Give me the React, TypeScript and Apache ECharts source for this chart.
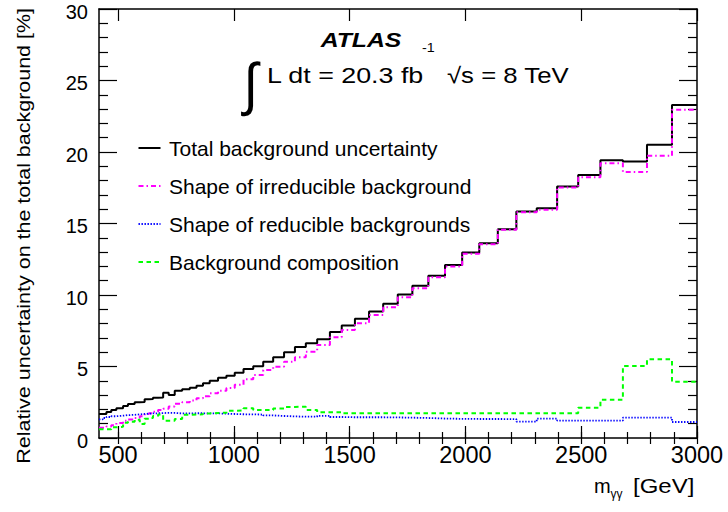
import React, { useEffect, useRef } from "react";
import * as echarts from "echarts";

// Bin edges of the m_gammagamma histogram [GeV]
const binEdges = [
  418, 434, 450, 471, 493, 522, 543, 572, 594, 615,
  633, 651, 673, 695, 719, 745, 777, 810, 839, 867,
  896, 932, 968, 1004, 1042, 1084, 1127, 1170, 1217, 1264,
  1311, 1360, 1415, 1466, 1523, 1584, 1645, 1708, 1771, 1840,
  1912, 1986, 2060, 2140, 2220, 2308, 2396, 2487, 2583, 2680,
  2784, 2892, 3000,
];

// Relative uncertainties [%] per bin
const totalUncertainty = [
  1.68, 1.68, 1.82, 1.96, 2.08, 2.24, 2.38, 2.5, 2.52, 2.71,
  2.73, 2.82, 2.84, 3.17, 3.01, 3.31, 3.41, 3.52, 3.66, 3.83,
  4.01, 4.22, 4.36, 4.57, 4.82, 5.02, 5.34, 5.65, 6.0, 6.36,
  6.63, 6.9, 7.41, 7.87, 8.34, 8.85, 9.38, 10.04, 10.64, 11.34,
  12.1, 12.97, 13.62, 14.6, 15.84, 16.07, 17.59, 18.4, 19.43, 19.34,
  20.5, 23.28,
];
const irreducibleShape = [
  0.72, 0.72, 0.8, 0.9, 1.05, 1.21, 1.3, 1.4, 1.52, 1.68,
  1.73, 1.84, 1.95, 2.05, 2.2, 2.4, 2.5, 2.62, 2.78, 2.92,
  3.13, 3.3, 3.5, 3.72, 4.11, 4.41, 4.76, 4.99, 5.34, 5.65,
  6.04, 6.51, 7.05, 7.56, 8.03, 8.61, 9.15, 9.84, 10.47, 11.24,
  11.99, 12.88, 13.55, 14.56, 15.79, 15.96, 17.52, 18.24, 19.22, 18.61,
  19.73, 22.95,
];
const reducibleShape = [
  1.3, 1.4, 1.47, 1.52, 1.56, 1.6, 1.62, 1.65, 1.68, 1.7,
  1.72, 1.73, 1.74, 1.76, 1.75, 1.72, 1.72, 1.73, 1.73, 1.72,
  1.72, 1.7, 1.68, 1.66, 1.65, 1.64, 1.58, 1.54, 1.51, 1.49,
  1.49, 1.55, 1.47, 1.45, 1.45, 1.45, 1.44, 1.42, 1.4, 1.36,
  1.34, 1.33, 1.33, 1.32, 1.14, 1.35, 1.22, 1.21, 1.21, 1.42,
  1.42, 1.12,
];
const backgroundComposition = [
  0.61, 0.61, 0.61, 0.75, 0.78, 1.07, 1.14, 1.28, 0.98, 1.35,
  1.4, 1.54, 1.65, 1.21, 1.21, 1.33, 1.62, 1.64, 1.66, 1.72,
  1.75, 1.77, 1.9, 1.92, 2.08, 1.96, 1.96, 2.07, 2.17, 2.19,
  1.96, 1.8, 1.8, 1.73, 1.73, 1.73, 1.73, 1.73, 1.73, 1.73,
  1.73, 1.73, 1.73, 1.73, 1.73, 1.73, 1.73, 2.12, 2.68, 5.04,
  5.5, 3.94,
];

const seriesNames = [
  "Total background uncertainty",
  "Shape of irreducible background",
  "Shape of reducible backgrounds",
  "Background composition",
];

const xMajorTicks = [500, 1000, 1500, 2000, 2500, 3000];
const xMinorTicks = [
  500, 600, 700, 800, 900, 1000, 1100, 1200, 1300, 1400, 1500, 1600, 1700,
  1800, 1900, 2000, 2100, 2200, 2300, 2400, 2500, 2600, 2700, 2800, 2900, 3000,
];

const FONT = "'Liberation Sans', Arial, Helvetica, sans-serif";

function stepPoints(values: number[]) {
  const pts: number[][] = values.map((v, i) => [binEdges[i], v]);
  pts.push([binEdges[binEdges.length - 1], values[values.length - 1]]);
  return pts;
}

export default function App() {
  const ref = useRef<HTMLDivElement>(null);

  useEffect(() => {
    document.body.style.margin = "0";
    if (!ref.current) return;
    const chart = echarts.init(ref.current, null, { renderer: "svg" });

    const axisLine = { show: true, onZero: false, lineStyle: { color: "#000", width: 1.5 } };
    const tickLine = { color: "#000", width: 1.2 };
    const plain = (v: number) => String(v);
    const baseX = {
      type: "value",
      min: 418,
      max: 3000,
      splitLine: { show: false },
      gridIndex: 0,
    };
    const baseY = {
      type: "value",
      min: 0,
      max: 30,
      interval: 5,
      splitLine: { show: false },
      minorSplitLine: { show: false },
      axisLine,
      axisTick: { show: true, inside: true, length: 18, lineStyle: tickLine },
      minorTick: { show: true, splitNumber: 5, length: 9, lineStyle: tickLine },
    };

    const mkSeries = (name: string, values: number[], color: string, width: number, type: any, z: number) => ({
      name,
      type: "line",
      step: "end",
      symbol: "none",
      showSymbol: false,
      xAxisIndex: 0,
      yAxisIndex: 0,
      data: stepPoints(values),
      lineStyle: { color, width, type },
      itemStyle: { color },
      z,
    });

    const txt = (x: number, y: number, text: string, fontSize: number, align: string, scaleX = 1, extra: any = {}) => ({
      type: "text",
      x,
      y,
      scaleX,
      ...extra,
      style: {
        text,
        fontFamily: FONT,
        fontSize,
        fill: "#000",
        align,
        verticalAlign: "middle",
        ...(extra.style || {}),
      },
    });

    const option: any = {
      animation: false,
      backgroundColor: "#fff",
      grid: { left: 99, right: 31, top: 9, bottom: 74, containLabel: false, outerBoundsMode: "none" },
      xAxis: [
        {
          ...baseX,
          position: "bottom",
          axisLine,
          axisTick: { show: true, inside: true, length: 12, customValues: xMajorTicks, lineStyle: tickLine },
          axisLabel: {
            show: true,
            customValues: xMajorTicks,
            formatter: plain,
            fontFamily: FONT,
            fontSize: 23.5,
            color: "#000",
            margin: 5,
          },
        },
        {
          ...baseX,
          position: "bottom",
          axisLine: { show: false },
          axisTick: { show: true, inside: true, length: 6, customValues: xMinorTicks, lineStyle: tickLine },
          axisLabel: { show: false },
        },
        {
          ...baseX,
          position: "top",
          axisLine,
          axisTick: { show: true, inside: true, length: 12, customValues: xMajorTicks, lineStyle: tickLine },
          axisLabel: { show: false },
        },
        {
          ...baseX,
          position: "top",
          axisLine: { show: false },
          axisTick: { show: true, inside: true, length: 6, customValues: xMinorTicks, lineStyle: tickLine },
          axisLabel: { show: false },
        },
      ],
      yAxis: [
        {
          ...baseY,
          position: "left",
          axisLabel: {
            show: true,
            formatter: (v: number) => `{v|${v}}`,
            margin: 11,
            rich: {
              v: {
                fontFamily: FONT,
                fontSize: 20,
                color: "#000",
                padding: [5, 0, 0, 0],
              },
            },
          },
        },
        {
          ...baseY,
          position: "right",
          axisLabel: { show: false },
        },
      ],
      legend: {
        orient: "vertical",
        left: 137.5,
        top: 137.5,
        padding: 0,
        itemGap: 17,
        itemWidth: 22,
        itemHeight: 14,
        selectedMode: false,
        itemStyle: { opacity: 0 },
        textStyle: { fontFamily: FONT, fontSize: 21, color: "#000", padding: [0, 0, 0, 3.5] },
        data: seriesNames,
      },
      series: [
        mkSeries(seriesNames[0], totalUncertainty, "#000000", 2, "solid", 2),
        mkSeries(seriesNames[1], irreducibleShape, "#ff00ff", 2, [5, 3, 1.5, 3], 3),
        mkSeries(seriesNames[2], reducibleShape, "#0000ff", 1.8, [1.4, 1.6], 4),
        mkSeries(seriesNames[3], backgroundComposition, "#00ff00", 2, [4.5, 3.5], 5),
      ],
      graphic: [
        txt(361, 39.2, "ATLAS", 21, "center", 1.18, { style: { fontWeight: "bold", fontStyle: "italic" } }),
        txt(251, 84, "∫", 58, "center", 0.9),
        txt(267, 75.5, "L dt = 20.3 fb", 22, "left", 1.22),
        txt(422, 48, "-1", 13, "left", 1.1),
        txt(447, 75.5, "√s = 8 TeV", 22, "left", 1.17),
        txt(594, 486.4, "m", 20, "left"),
        txt(610.5, 494, "γγ", 12, "left"),
        txt(633, 486.4, "[GeV]", 20, "left", 1.2),
        txt(23.5, 8, "Relative uncertainty on the total background [%]", 19, "right", 1.13, {
          rotation: Math.PI / 2,
        }),
      ],
    };

    chart.setOption(option);
    return () => chart.dispose();
  }, []);

  return (
    <div
      ref={ref}
      style={{ position: "absolute", left: 0, top: 0, width: 728, height: 512 }}
    />
  );
}
